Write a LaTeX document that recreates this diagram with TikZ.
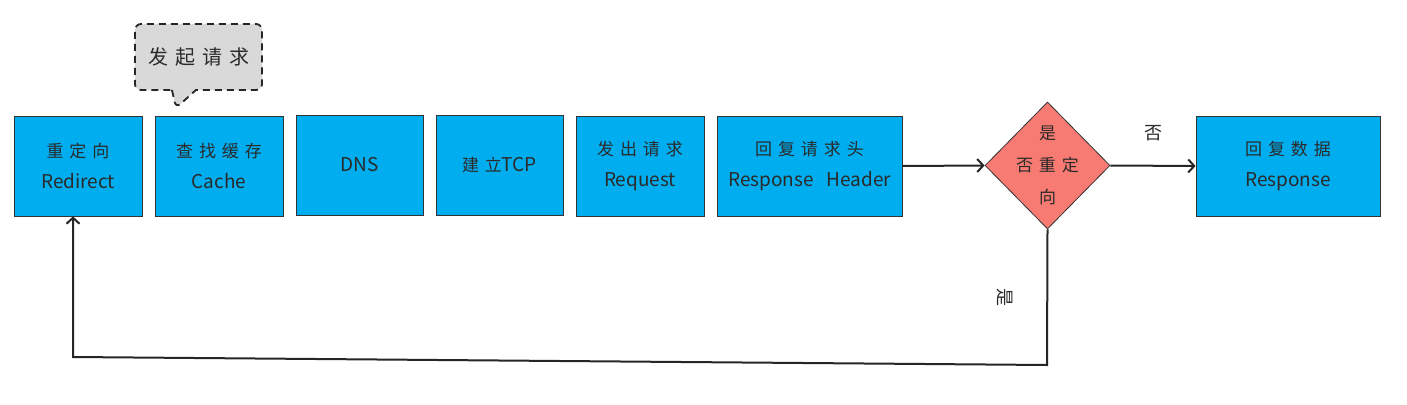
\documentclass[tikz,border=0pt]{standalone}
\usepackage{fontspec}
\setmainfont{Noto Sans CJK SC}
\newfontfamily\cjk[LetterSpace=35]{Noto Sans CJK SC}
\newcommand{\cj}[1]{{\fontsize{17}{31}\selectfont\cjk #1}}
\usetikzlibrary{arrows.meta,shapes.geometric,shapes.callouts,calc}
\definecolor{boxblue}{HTML}{00AEEF}
\definecolor{dred}{HTML}{F77B72}
\definecolor{callgray}{HTML}{D9D9D9}
\definecolor{txt}{HTML}{2A2A2A}
\tikzset{
  stepbox/.style={draw=black!80, line width=0.8pt, fill=boxblue, minimum height=100pt,
    inner sep=0pt, align=center, text=txt, font=\fontsize{19}{31}\selectfont},
  conn/.style={draw=black!85, line width=2pt, -{Straight Barb[length=6pt,width=13pt,line width=2pt]}},
  lbl/.style={text=txt, font=\fontsize{18}{20}\selectfont, inner sep=0pt}
}
\begin{document}
\begin{tikzpicture}[x=1pt,y=-1pt]
\path[use as bounding box, fill=white] (0,0) rectangle (1407,404);

\node[stepbox, minimum width=128pt] (r) at (78,166) {\cj{重定向}\\Redirect};
\node[stepbox, minimum width=128pt] (c) at (219,166) {\cj{查找缓存}\\Cache};
\node[stepbox, minimum width=127pt] (d) at (359.5,165) {DNS};
\node[stepbox, minimum width=127pt] (t) at (499.5,165) {\cj{建立}TCP};
\node[stepbox, minimum width=128pt] (q) at (640,166) {\cj{发出请求}\\Request};
\node[stepbox, minimum width=185pt] (h) at (809.5,166) {\cj{回复请求头}\\Response\ \ \ Header};
\node[stepbox, minimum width=184pt] (p) at (1288,166) {\cj{回复数据}\\Response};

\node[diamond, draw=black!80, line width=0.8pt, fill=dred, minimum width=125pt,
  minimum height=127pt, inner sep=0pt] (dq) at (1047.5,165.5) {};
\node[align=center, text=txt, font=\fontsize{17}{32}\selectfont\cjk, inner sep=0pt] (dqt) at (dq.center) {是\\否重定\\向};

\node[rectangle callout, draw=black!85, line width=1.8pt, dash pattern=on 7pt off 5pt,
  rounded corners=6pt, fill=callgray, minimum width=127pt, minimum height=66pt,
  callout absolute pointer={(176,108)}, callout pointer width=24pt,
  text=txt, font=\fontsize{20}{22}\selectfont\cjk, inner sep=0pt] (call) at (198.5,57) {发起请求};

\draw[conn] (h.east) -- (dq.west);
\draw[conn] (dq.east) -- (p.west);
\node[lbl] (no) at (1153,133) {否};

\coordinate (c1) at (1047,365);
\coordinate (c2) at (73,357);
\draw[conn] (dq.south) -- (c1) -- (c2) -- (c2 |- r.south);
\node[lbl, rotate=-90] (yes) at (1005,297) {是};
\end{tikzpicture}
\end{document}
